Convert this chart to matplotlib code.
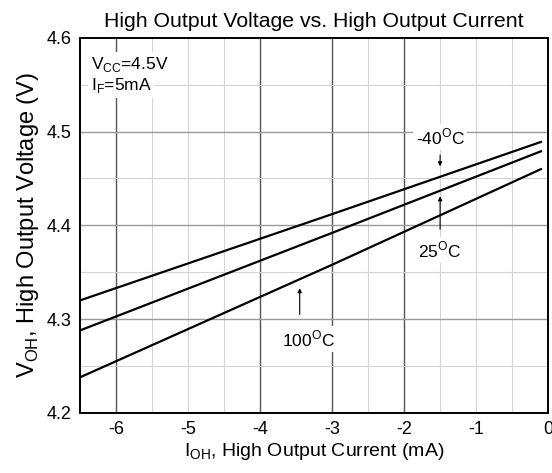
import matplotlib.pyplot as plt

plt.rcParams['font.family'] = ['Liberation Sans', 'DejaVu Sans']
plt.rcParams['mathtext.fontset'] = 'custom'
plt.rcParams['mathtext.rm'] = 'Liberation Sans'

# Data
i_oh = [-6.5, -3.0, -0.1]
v_m40 = [4.320, 4.412, 4.489]
v_25 = [4.288, 4.392, 4.479]
v_100 = [4.238, 4.358, 4.460]

fig = plt.figure(figsize=(5.52, 4.73), dpi=100)
ax = fig.add_axes([0.145, 0.127, 0.848, 0.793])

# grid, drawn by hand to mimic the scanned chart
for x in [-5.5, -5, -4.5, -2.5, -1.5, -1, -0.5]:
    ax.axvline(x, color='#d4d4d4', lw=0.8, zorder=0)
for x in [-6, -4, -3, -2]:
    ax.axvline(x, color='#555555', lw=1.0, zorder=0)
for y in [4.25, 4.35, 4.45, 4.55]:
    ax.axhline(y, color='#d4d4d4', lw=0.8, zorder=0)
for y in [4.3, 4.4, 4.5]:
    ax.axhline(y, color='#9a9a9a', lw=1.0, zorder=0)

for v in (v_m40, v_25, v_100):
    ax.plot(i_oh, v, color='black', lw=1.6, zorder=3)

box = dict(facecolor='white', edgecolor='none', pad=2)
deg = r'$^{\mathregular{O}}$C'

ax.text(-1.5, 4.494, '-40' + deg, ha='center', va='center', fontsize=12.5, bbox=box, zorder=4)
ax.annotate('', xy=(-1.5, 4.460), xytext=(-1.5, 4.478),
            arrowprops=dict(arrowstyle='-|>', color='black', lw=0.8, mutation_scale=6), zorder=4)

ax.text(-1.5, 4.374, '25' + deg, ha='center', va='center', fontsize=12.5, bbox=box, zorder=4)
ax.annotate('', xy=(-1.5, 4.434), xytext=(-1.5, 4.393),
            arrowprops=dict(arrowstyle='-|>', color='black', lw=0.8, mutation_scale=6), zorder=4)

ax.text(-3.33, 4.279, '100' + deg, ha='center', va='center', fontsize=12.5, bbox=box, zorder=4)
ax.annotate('', xy=(-3.45, 4.336), xytext=(-3.45, 4.302),
            arrowprops=dict(arrowstyle='-|>', color='black', lw=0.8, mutation_scale=6), zorder=4)

ax.text(-6.35, 4.572, r'V$_{\mathregular{CC}}$=4.5V', ha='left', va='center',
        fontsize=12.5, bbox=box, zorder=4)
ax.text(-6.35, 4.549, r'I$_{\mathregular{F}}$=5mA', ha='left', va='center',
        fontsize=12.5, bbox=box, zorder=4)

ax.set_xlim(-6.5, 0)
ax.set_ylim(4.2, 4.6)
ax.set_xticks([-6, -5, -4, -3, -2, -1, 0])
ax.set_xticklabels(['-6', '-5', '-4', '-3', '-2', '-1', '0'])
ax.set_yticks([4.2, 4.3, 4.4, 4.5, 4.6])
ax.tick_params(length=0, labelsize=13, pad=6)

for s in ax.spines.values():
    s.set_linewidth(1.4)

ax.set_title('High Output Voltage vs. High Output Current', fontsize=15.3, pad=8)
ax.set_xlabel(r'I$_{\mathregular{OH}}$, High Output Current (mA)', fontsize=14, labelpad=2)
ax.set_ylabel(r'V$_{\mathregular{OH}}$, High Output Voltage (V)', fontsize=17, labelpad=4)

fig.savefig('out.png', dpi=100)
